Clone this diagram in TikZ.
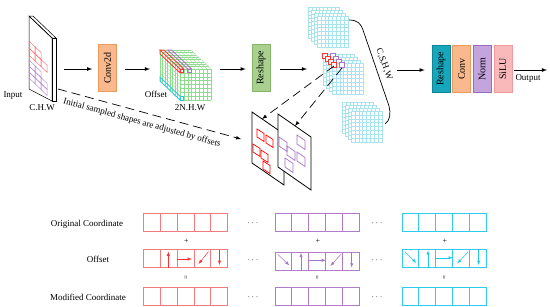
\documentclass[tikz,border=0pt]{standalone}
\usepackage{fontspec}
\setmainfont{Liberation Serif}
\usepackage{tikz}
\usetikzlibrary{positioning}

\definecolor{convor}{HTML}{F9B98C}
\definecolor{convorD}{HTML}{EE9A5E}
\definecolor{reshgr}{HTML}{A9D08E}
\definecolor{reshgrD}{HTML}{84B56A}
\definecolor{reshtl}{HTML}{17A6BB}
\definecolor{reshtlD}{HTML}{0E8699}
\definecolor{normpu}{HTML}{C5A3DC}
\definecolor{normpuD}{HTML}{9A6CC0}
\definecolor{silupk}{HTML}{F9B8BA}
\definecolor{silupkD}{HTML}{EE999C}
\definecolor{gridgr}{HTML}{8FDC8F}
\definecolor{gridcy}{HTML}{A8E4EE}
\definecolor{ofsred}{HTML}{FF3030}
\definecolor{ofspur}{HTML}{A874C8}
\definecolor{ofscy}{HTML}{22C8E8}
\definecolor{stripred}{HTML}{F47A7E}
\definecolor{strippur}{HTML}{B27CCB}
\definecolor{stripcy}{HTML}{30CBEE}

\begin{document}
\begin{tikzpicture}[x=1pt,y=-1pt,>=latex,
  font=\fontsize{9}{10}\selectfont, inner sep=1pt,
  blockbox/.style={draw, line width=0.6pt, minimum width=18pt, minimum height=47pt,
    inner sep=0pt, font=\fontsize{10}{11}\selectfont},
  flow/.style={->, line width=0.8pt},
  longdash/.style={->, line width=0.7pt, dash pattern=on 9pt off 5pt},
  thingrid/.style={line width=0.3pt},
  offarrow/.style={->, line width=0.5pt},
  stripbox/.style={line width=0.7pt}]
\useasboundingbox (0,0) rectangle (550,306);

% input feature map
\filldraw[fill=white,line width=0.5pt] (29,16) -- (33,16) -- (56,38) -- (52,38) -- cycle;
\filldraw[fill=white,line width=0.5pt] (52,38) -- (56,38) -- (56,101) -- (52,101) -- cycle;
\draw[line width=0.5pt] (29,16) -- (52,38) -- (52,101) -- (29,89) -- cycle;
\foreach \c/\r in {0/0,0/1,1/0,1/1,2/1}
  \draw[ofsred!70,line width=0.5pt] ({29+\c*6},{41+\c*5.76+\r*7}) -- ++(6,5.76) -- ++(0,7) -- ++(-6,-5.76) -- cycle;
\foreach \c/\r in {0/0,0/1,0/2,1/0,1/1,1/2,2/1,2/2}
  \draw[ofspur!80,line width=0.5pt] ({29+\c*6},{60+\c*5.76+\r*6}) -- ++(6,5.76) -- ++(0,6) -- ++(-6,-5.76) -- cycle;
\node (inlbl) at (13,96) {Input};
\node (indim) at (42,108) {C.H.W};
\coordinate (inR) at (57,69);
\coordinate (inB) at (58,89);

\node[blockbox, fill=convor, draw=convorD] (conv) at (107.5,68) {\rotatebox{90}{Conv2d}};

% offset cube
\foreach \i in {0,...,8} {
  \draw[gridgr,thingrid] ({180+\i*3.875},69) -- ++(-20,-19);
  \draw[gridgr,thingrid] ({180-\i*2.5},{69-\i*2.375}) -- ++(31,0);
  \draw[gridgr,thingrid] (180,{69+\i*3.875}) -- ++(-20,-19);
  \draw[gridgr,thingrid] ({180-\i*2.5},{69-\i*2.375}) -- ++(0,31);
  \draw[gridgr,thingrid] ({180+\i*3.875},69) -- ++(0,31);
  \draw[gridgr,thingrid] (180,{69+\i*3.875}) -- ++(31,0);
}
\draw[ofsred,line width=0.8pt] (180,69) -- (183.875,69) -- (163.875,50) -- (160,50) -- cycle;
\draw[ofsred,line width=0.8pt] (180,69) -- (180,72.875) -- (160,53.875) -- (160,50);
\draw[ofsred,line width=0.8pt] (180,69) rectangle (183.875,72.875);
\draw[ofspur,line width=0.8pt] (187.75,69) -- (191.625,69) -- (171.625,50) -- (167.75,50) -- cycle;
\draw[ofspur,line width=0.8pt] (187.75,69) rectangle (191.625,72.875);
\draw[ofscy,line width=0.8pt] (180,96.125) -- (180,100) -- (160,81) -- (160,77.125) -- cycle;
\draw[ofscy,line width=0.8pt] (180,96.125) rectangle (183.875,100);
\node (offlbl) at (156,94) {Offset};
\node (offdim) at (190,108) {2N.H.W};
\coordinate (offL) at (160,69);
\coordinate (offR) at (211,69);

\node[blockbox, fill=reshgr, draw=reshgrD] (resh1) at (261,68) {\rotatebox{90}{Reshape}};

% reshaped stacks
\foreach \cx/\cy/\hl in {317/16/0, 332/63/1, 351/111/0} {
  \foreach \k in {3,2,1,0} {
    \fill[white] ({\cx-3*\k},{\cy-3*\k}) rectangle ++(31,31);
    \draw[gridcy,thingrid] ({\cx-3*\k},{\cy-3*\k}) rectangle ++(31,31);
    \foreach \i in {1,...,7} {
      \draw[gridcy,thingrid] ({\cx-3*\k+\i*3.875},{\cy-3*\k}) -- ++(0,31);
      \draw[gridcy,thingrid] ({\cx-3*\k},{\cy-3*\k+\i*3.875}) -- ++(31,0);
    }
    \ifnum\hl=1
      \filldraw[fill=white,draw=ofsred,line width=0.6pt] ({\cx-3*\k-1},{\cy-3*\k-1}) rectangle ++(5.5,5.5);
      \filldraw[fill=white,draw=ofspur,line width=0.6pt] ({\cx-3*\k+7},{\cy-3*\k-1}) rectangle ++(5.5,5.5);
    \fi
  }
}
\coordinate (stackL) at (315,69);
\coordinate (redblk) at (334,66);
\coordinate (purblk) at (342,68);

\draw[line width=0.7pt] (349,20) .. controls (358,20) and (361,24) .. (363,30) -- (389,106) .. controls (391,113) and (390,121) .. (385,124);
\node[rotate=-70] (cshw) at (384,64) {C,S,H,W};
\coordinate (braceR) at (392,70);

% sampling planes
\filldraw[fill=white,line width=0.8pt] (252,112) -- (284,134) -- (284,185) -- (252,163) -- cycle;
\foreach \px/\py in {257/129,266/135,253/144,261/150,263/161}
  \draw[red,line width=0.7pt] (\px,\py) -- ++(7,4.5) -- ++(0,8) -- ++(-7,-4.5) -- cycle;
\filldraw[fill=white,line width=0.8pt] (278,114) -- (311,137) -- (311,190) -- (278,167) -- cycle;
\foreach \px/\py in {279/137,287/146,297/135,285/158,297/152}
  \draw[ofspur,line width=0.7pt] (\px,\py) -- ++(8,5.5) -- ++(0,9) -- ++(-8,-5.5) -- cycle;
\coordinate (plane1L) at (241,139);
\coordinate (plane1T) at (262,119);
\coordinate (plane2T) at (295,126);

\draw[longdash] (inB) -- (plane1L);
\node[rotate=-15.5] (adjlbl) at (142,123) {Initial sampled shapes are adjusted by offsets};
\draw[longdash] (redblk) -- (plane1T);
\draw[longdash] (purblk) -- (plane2T);

% output head
\node[blockbox, fill=reshtl, draw=reshtlD] (resh2) at (441,69) {\rotatebox{90}{Reshape}};
\node[blockbox, fill=convor, draw=convorD, right=2pt of resh2] (convb) {\rotatebox{90}{Conv}};
\node[blockbox, fill=normpu, draw=normpuD, right=2pt of convb] (norm) {\rotatebox{90}{Norm}};
\node[blockbox, fill=silupk, draw=silupkD, right=2pt of norm] (silu) {\rotatebox{90}{SiLU}};
\coordinate (outend) at (547,70);
\node (outlbl) at (528,78) {Output};

\draw[flow,shorten <=7pt,shorten >=6pt] (inR) -- (conv.west |- inR);
\draw[flow,shorten <=8pt,shorten >=10pt] (conv.east |- offL) -- (offL);
\draw[flow,shorten <=9pt,shorten >=6pt] (offR) -- (resh1.west |- offR);
\draw[flow,shorten <=10pt,shorten >=8pt] (resh1.east |- stackL) -- (stackL);
\draw[flow,shorten <=5pt,shorten >=7pt] (braceR) -- (resh2.west |- braceR);
\draw[flow,shorten <=2pt] (silu.east |- outend) -- (outend);

% coordinate rows
\node (origlbl) at (87,224) {Original Coordinate};
\node (offsetlbl) at (98,259) {Offset};
\node (modlbl) at (88,297) {Modified Coordinate};
\foreach \xs/\cl/\dy/\n in {143.5/stripred/0/a, 275/strippur/2.5/b, 402/stripcy/0/c} {
  \draw[\cl,stripbox] (\xs,213.5) rectangle ++(84,18);
  \draw[\cl,stripbox] (\xs,{249.5+\dy}) rectangle ++(84,18);
  \draw[\cl,stripbox] (\xs,287) rectangle ++(84,18);
  \foreach \i in {1,...,4} {
    \draw[\cl,stripbox] ({\xs+\i*16.8},213.5) -- ++(0,18);
    \draw[\cl,stripbox] ({\xs+\i*16.8},{249.5+\dy}) -- ++(0,18);
    \draw[\cl,stripbox] ({\xs+\i*16.8},287) -- ++(0,18);
  }
  \node[font=\fontsize{8}{9}\selectfont] (plus\n) at ({\xs+43},241) {+};
  \node[rotate=90,font=\fontsize{7}{8}\selectfont] (eq\n) at ({\xs+43},278) {=};
}
\foreach \dx/\m in {253/a,377/b} {
  \node (dots\m1) at (\dx,223) {$\cdots$};
  \node (dots\m2) at (\dx,260) {$\cdots$};
  \node (dots\m3) at (\dx,297) {$\cdots$};
}
\draw[ofsred,offarrow] (168.3,267.5) -- (168.3,251.5);
\draw[ofsred,offarrow] (177.1,259) -- (192,259);
\draw[ofsred,offarrow] (208.5,251.5) -- (198.5,264);
\draw[ofsred,offarrow] (219.5,249.5) -- (219.5,265);
\foreach \xs/\ys/\cl in {275/252/ofspur, 402/249.5/ofscy} {
  \draw[\cl,offarrow] ({\xs+2.7},{\ys+2.3}) -- ({\xs+14.3},{\ys+13.3});
  \draw[\cl,offarrow] ({\xs+26},{\ys+18}) -- ({\xs+26},{\ys+0.8});
  \draw[\cl,offarrow] ({\xs+34.3},{\ys+8.3}) -- ({\xs+51},{\ys+8.3});
  \draw[\cl,offarrow] ({\xs+66},{\ys+2.3}) -- ({\xs+55.3},{\ys+14});
  \draw[\cl,offarrow] ({\xs+76.7},\ys) -- ({\xs+76.7},{\ys+15.6});
}
\end{tikzpicture}
\end{document}
